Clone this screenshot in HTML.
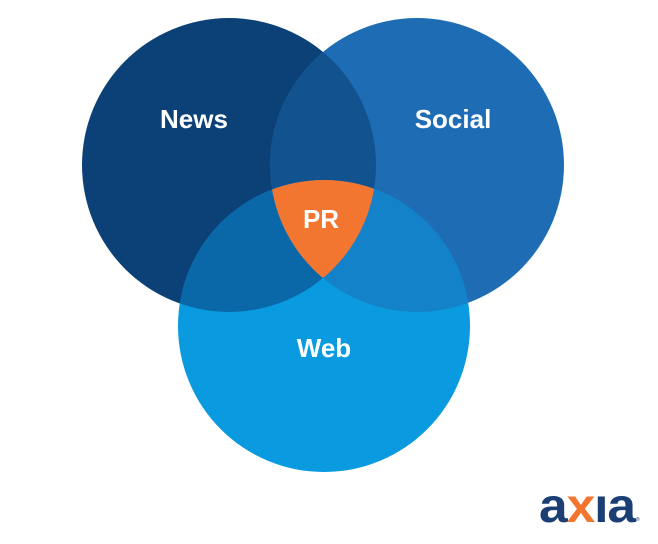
<!DOCTYPE html>
<html><head><style>body{margin:0;background:#fff}svg{display:block}</style></head><body>
<svg width="658" height="544" xmlns="http://www.w3.org/2000/svg">
<defs>
<clipPath id="a"><circle cx="229" cy="165" r="147"/></clipPath>
<clipPath id="b"><circle cx="417" cy="165" r="147"/></clipPath>
</defs>
<circle cx="229" cy="165" r="147" fill="#0b4177"/>
<circle cx="417" cy="165" r="147" fill="#1e6cb4"/>
<circle cx="324" cy="326" r="146" fill="#0a9ae0"/>
<circle cx="417" cy="165" r="147" fill="#12528f" clip-path="url(#a)"/>
<circle cx="324" cy="326" r="146" fill="#0b68a8" clip-path="url(#a)"/>
<circle cx="324" cy="326" r="146" fill="#1482c9" clip-path="url(#b)"/>
<g clip-path="url(#a)"><circle cx="324" cy="326" r="146" fill="#f37630" clip-path="url(#b)"/></g>
<g font-family="Liberation Sans, sans-serif" font-weight="bold" font-size="26" fill="#fff" text-anchor="middle">
<text x="194" y="128">News</text>
<text x="453" y="128">Social</text>
<text x="321" y="228">PR</text>
<text x="324" y="357">Web</text>
</g>
<text x="539" y="522" font-family="Liberation Sans, sans-serif" font-weight="bold" font-size="48" fill="#1b3f75" letter-spacing="-1" textLength="96" lengthAdjust="spacingAndGlyphs">a<tspan fill="#f37630">x</tspan>ıa</text>
<text x="636" y="521" font-family="Liberation Sans, sans-serif" font-size="5" fill="#1b3f75">®</text>
</svg>
</body></html>
